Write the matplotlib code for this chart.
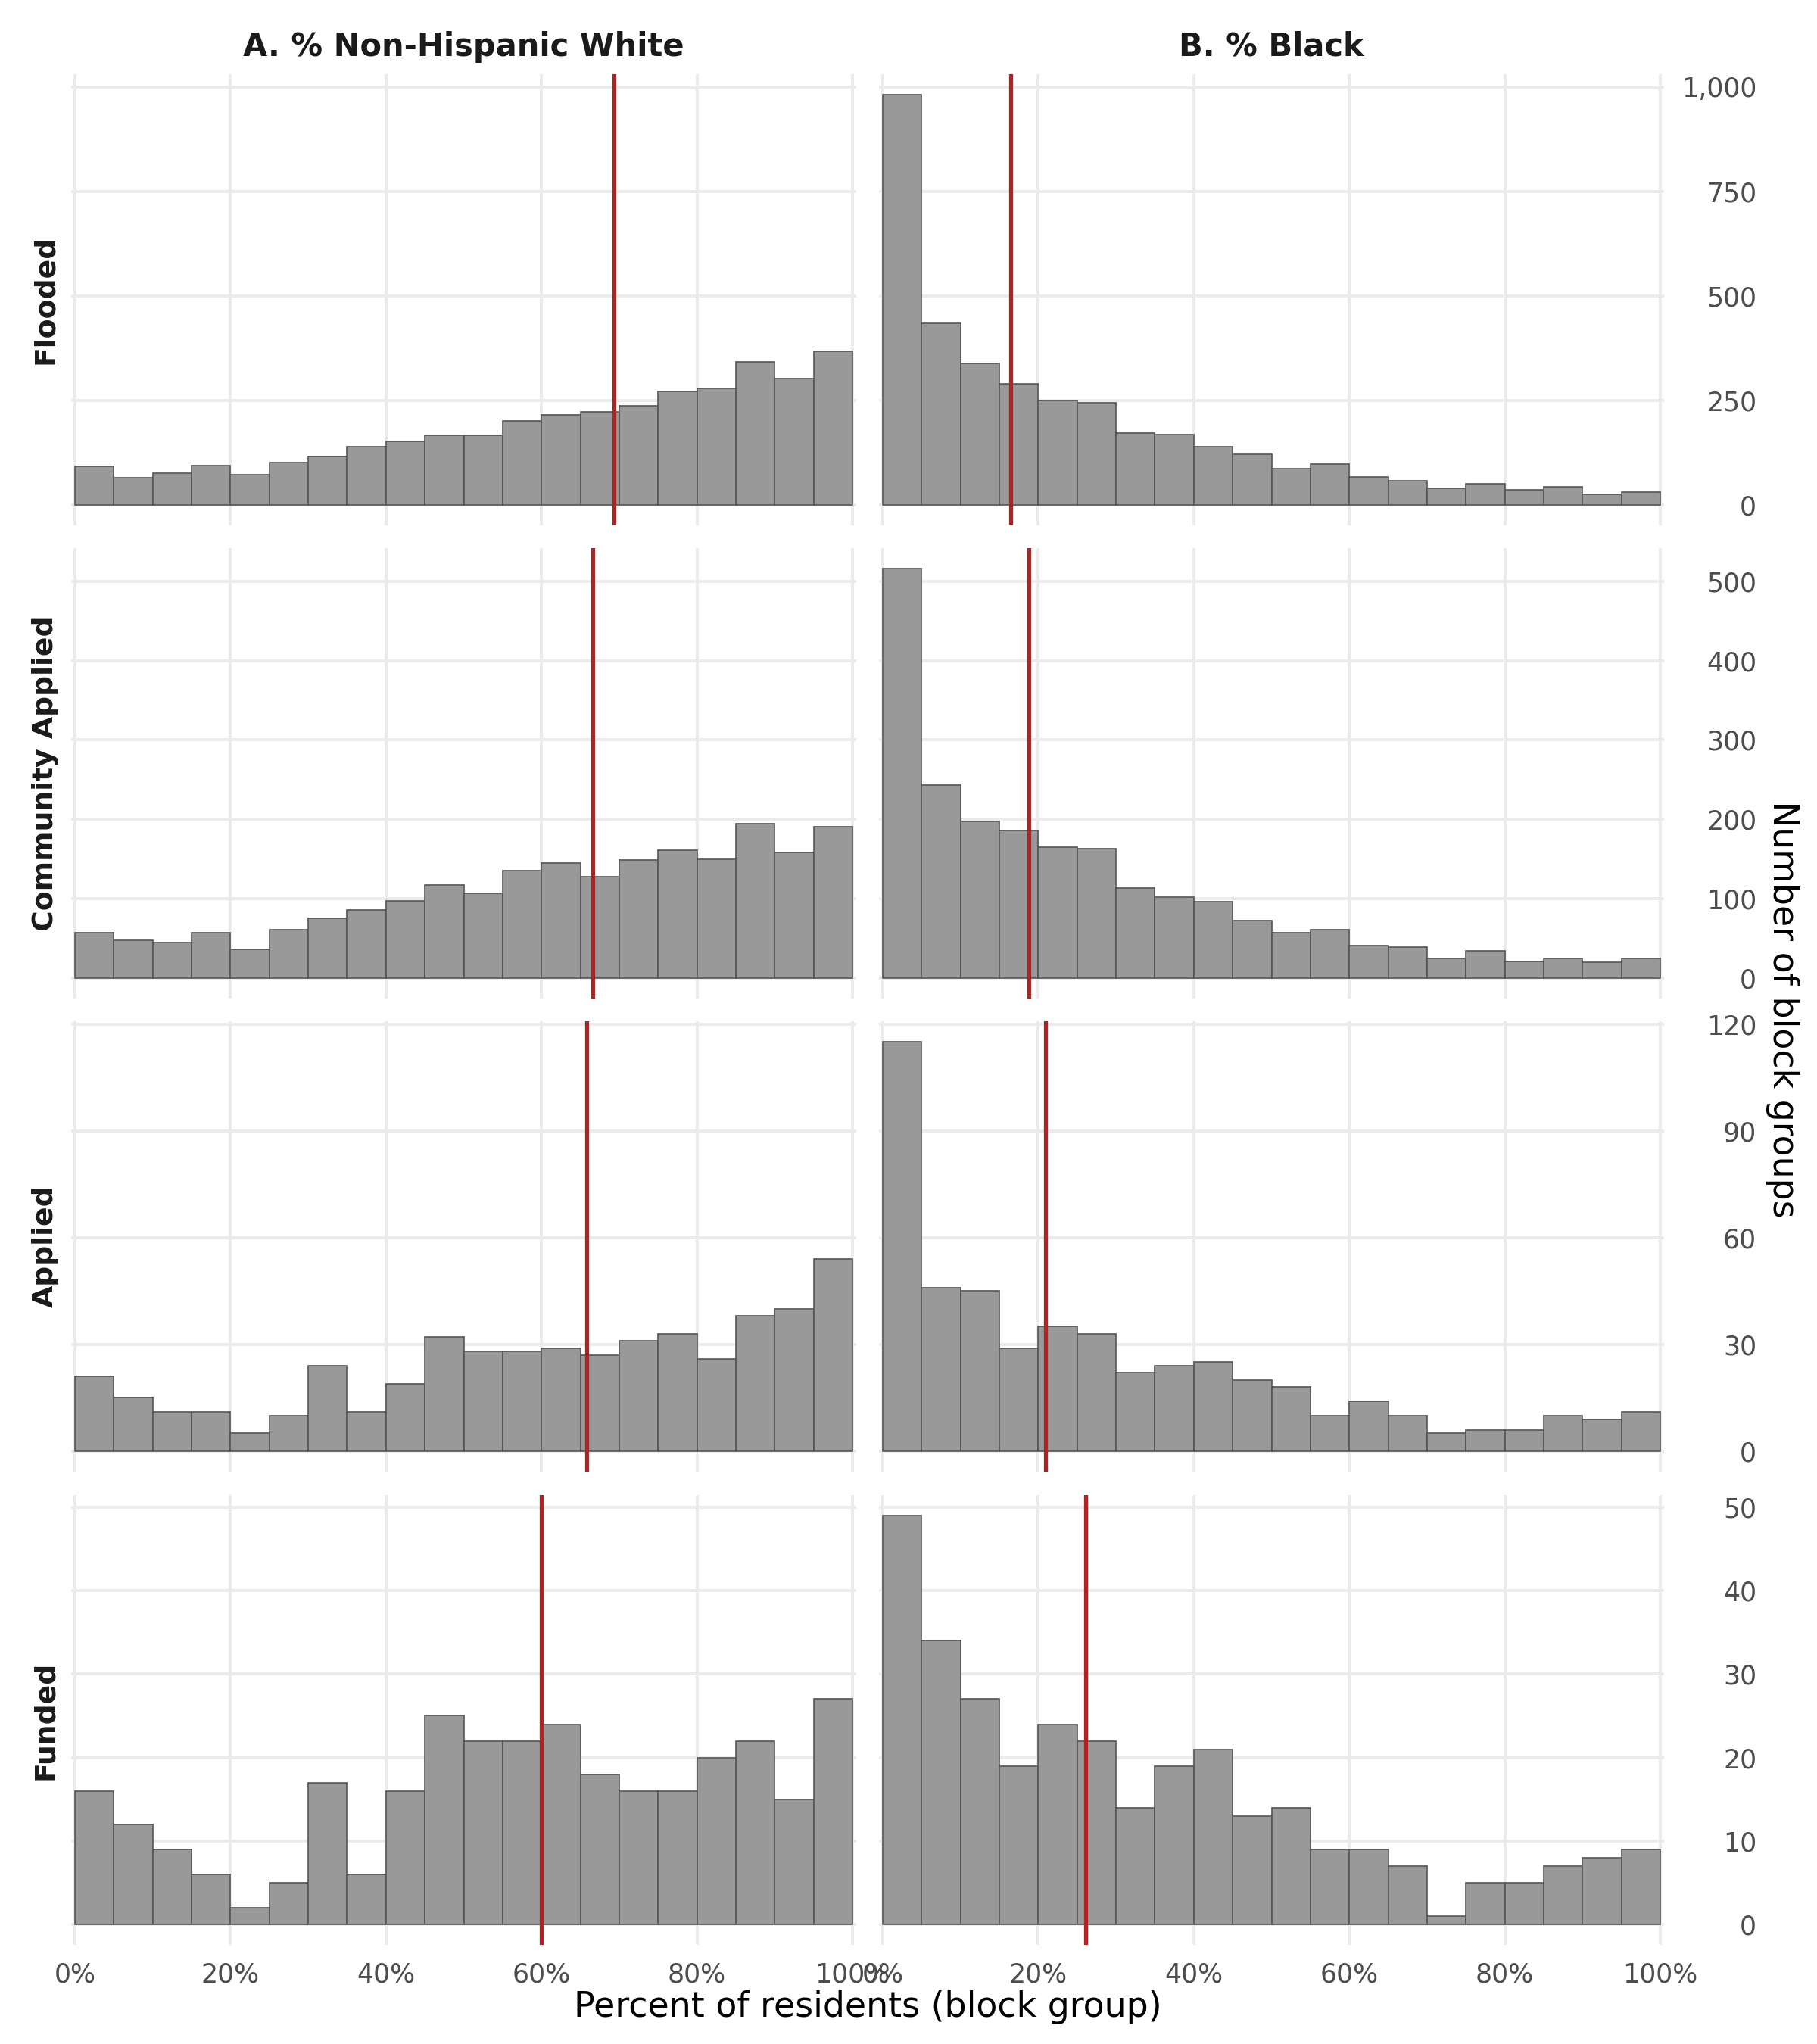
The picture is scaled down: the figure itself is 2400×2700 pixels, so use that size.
import numpy as np
import matplotlib

matplotlib.use("Agg")
from matplotlib import pyplot as plt


# histogram bins (binwidth 5 percentage points, 0..100%)
BIN_WIDTH = 0.05
BIN_STARTS = np.arange(20) * BIN_WIDTH

COLUMNS = ["A. % Non-Hispanic White", "B. % Black"]
ROWS = ["Flooded", "Community Applied", "Applied", "Funded"]

# counts per bin
flooded_white = [92, 65, 75, 94, 72, 102, 116, 140, 152, 166,
                 166, 201, 216, 223, 237, 272, 279, 342, 303, 367]
flooded_black = [981, 434, 339, 290, 250, 244, 172, 168, 140, 121,
                 87, 98, 66, 58, 40, 51, 36, 44, 25, 31]
community_white = [57, 48, 45, 57, 36, 61, 75, 86, 97, 117,
                   107, 135, 145, 128, 149, 161, 150, 195, 158, 191]
community_black = [516, 243, 197, 186, 165, 163, 113, 102, 96, 72,
                   57, 61, 41, 39, 25, 34, 21, 25, 20, 25]
applied_white = [21, 15, 11, 11, 5, 10, 24, 11, 19, 32,
                 28, 28, 29, 27, 31, 33, 26, 38, 40, 54]
applied_black = [115, 46, 45, 29, 35, 33, 22, 24, 25, 20,
                 18, 10, 14, 10, 5, 6, 6, 10, 9, 11]
funded_white = [16, 12, 9, 6, 2, 5, 17, 6, 16, 25,
                22, 22, 24, 18, 16, 16, 20, 22, 15, 27]
funded_black = [49, 34, 27, 19, 24, 22, 14, 19, 21, 13,
                14, 9, 9, 7, 1, 5, 5, 7, 8, 9]

COUNTS = [
    [flooded_white, flooded_black],
    [community_white, community_black],
    [applied_white, applied_black],
    [funded_white, funded_black],
]

# mean share (red reference line) per panel
MEANS = [
    [0.693, 0.164],
    [0.666, 0.188],
    [0.658, 0.209],
    [0.600, 0.261],
]

X_TICKS = [0.0, 0.2, 0.4, 0.6, 0.8, 1.0]
X_TICK_LABELS = ["0%", "20%", "40%", "60%", "80%", "100%"]
Y_TICKS = [
    [0, 250, 500, 750, 1000],
    [0, 100, 200, 300, 400, 500],
    [0, 30, 60, 90, 120],
    [0, 10, 20, 30, 40, 50],
]

X_LABEL = "Percent of residents (block group)"
Y_LABEL = "Number of block groups"

# layout in pixels of the 2400x2700 output
W, H, DPI = 2400, 2700, 200
COL_X = [(94, 1131), (1161, 2198)]
ROW_Y = [(98, 694), (724, 1319), (1349, 1944), (1975, 2569)]

GRID_COLOR = "#EBEBEB"
BAR_FILL = "#999999"
BAR_EDGE = "#555555"
MEAN_COLOR = "#B22222"
TICK_COLOR = "#4D4D4D"
STRIP_COLOR = "#1A1A1A"

fig = plt.figure(figsize=(W / DPI, H / DPI), dpi=DPI)
fig.patch.set_facecolor("white")

for r, row_name in enumerate(ROWS):
    ymax = max(max(vals) for vals in COUNTS[r])
    y0, y1 = ROW_Y[r]
    for c in range(2):
        x0, x1 = COL_X[c]
        ax = fig.add_axes([x0 / W, 1 - y1 / H, (x1 - x0) / W, (y1 - y0) / H])
        ax.bar(BIN_STARTS, COUNTS[r][c], width=BIN_WIDTH, align="edge",
               color=BAR_FILL, edgecolor=BAR_EDGE, linewidth=0.6, zorder=2)
        ax.axvline(MEANS[r][c], color=MEAN_COLOR, linewidth=1.9, zorder=3)

        ax.set_xlim(-0.005, 1.005)
        ax.set_ylim(-0.05 * ymax, 1.05 * ymax)
        ax.set_xticks(X_TICKS)
        ax.set_yticks(Y_TICKS[r])
        ax.grid(True, color=GRID_COLOR, linewidth=1.4, zorder=0)
        ax.set_axisbelow(True)
        for spine in ax.spines.values():
            spine.set_visible(False)
        ax.set_facecolor("none")

        ax.yaxis.tick_right()
        ax.tick_params(axis="both", length=0, colors=TICK_COLOR, labelsize=12.5)
        ax.tick_params(axis="x", pad=8)
        ax.tick_params(axis="y", pad=44)

        if r == len(ROWS) - 1:
            ax.set_xticklabels(X_TICK_LABELS)
        else:
            ax.set_xticklabels([])

        if c == 1:
            ax.set_yticklabels([f"{v:,}" for v in Y_TICKS[r]])
            for lab in ax.get_yticklabels():
                lab.set_horizontalalignment("right")
        else:
            ax.set_yticklabels([])

        if r == 0:
            fig.text((x0 + x1) / 2 / W, 1 - 62 / H, COLUMNS[c], ha="center", va="center",
                     fontsize=15, fontweight="bold", color=STRIP_COLOR)

    fig.text(60 / W, 1 - (y0 + y1) / 2 / H, row_name, rotation=90, ha="center", va="center",
             fontsize=13.6, fontweight="bold", color=STRIP_COLOR)

fig.text((COL_X[0][0] + COL_X[1][1]) / 2 / W, 1 - 2652 / H, X_LABEL,
         ha="center", va="center", fontsize=16.5, color="black")
fig.text(2354 / W, 1 - (ROW_Y[0][0] + ROW_Y[-1][1]) / 2 / H, Y_LABEL, rotation=-90,
         ha="center", va="center", fontsize=16.5, color="black")

fig.savefig("out.png", dpi=DPI, facecolor="white")
plt.close("all")
